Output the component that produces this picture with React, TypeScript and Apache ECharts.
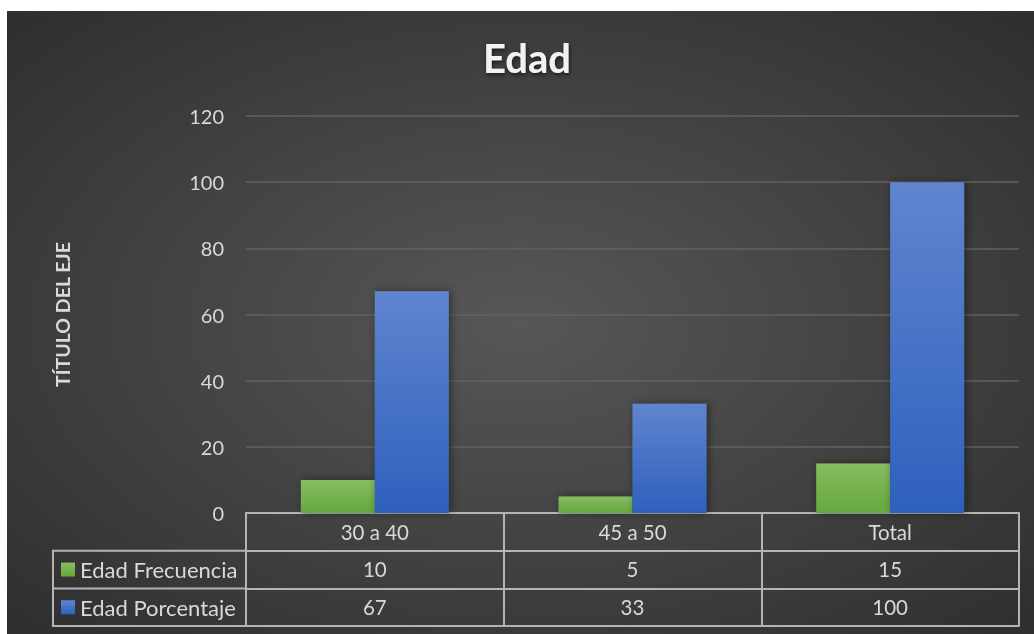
import React, { useEffect, useRef } from "react";
import * as echarts from "echarts";

const categories = ["30 a 40", "45 a 50", "Total"];
const frecuencia = [10, 5, 15];
const porcentaje = [67, 33, 100];
const seriesNames = ["Edad Frecuencia", "Edad Porcentaje"];
const yTicks = { min: 0, max: 120, interval: 20 };

const FONT = "Lato, 'Open Sans', sans-serif";
const TXT = "#d9d9d9";
const LINE = "#b4b4b4";

export default function App() {
  const ref = useRef<HTMLDivElement>(null);
  useEffect(() => {
    if (!ref.current) return;
    const chart = echarts.init(ref.current, null, { renderer: "svg" });
    const H = 623;
    const gridLeft = 239;
    const gridRight = 15;
    const gridTop = 105;
    const gridBottom = 121;
    const axisY = H - gridBottom; // 502
    const rowH = 37.7;
    const tableLeft = 46;
    const rowLabelCommon = {
      color: TXT,
      fontSize: 20.5,
      fontFamily: FONT,
      margin: 0,
      lineHeight: 37,
      verticalAlign: "top" as const,
    };
    const legendText = { color: TXT, fontSize: 22, fontFamily: FONT, lineHeight: 22 };
    const option: any = {
      animation: false,
      backgroundColor: {
        type: "radial",
        x: 0.5,
        y: 0.5,
        r: 0.85,
        colorStops: [
          { offset: 0, color: "#575757" },
          { offset: 1, color: "#262626" },
        ],
      },
      textStyle: { fontFamily: FONT },
      title: {
        text: "Edad",
        left: 515,
        textAlign: "center",
        top: 22,
        textStyle: {
          color: "#f2f2f2",
          fontSize: 40,
          fontWeight: "bold",
          fontFamily: FONT,
          textShadowColor: "rgba(0,0,0,0.6)",
          textShadowBlur: 4,
          textShadowOffsetX: 1,
          textShadowOffsetY: 2,
        },
      },
      legend: [
        {
          data: [seriesNames[0]],
          left: 54,
          top: axisY + rowH * 1.5 - 11,
          padding: 0,
          itemWidth: 14,
          itemHeight: 14,
          icon: "rect",
          textStyle: legendText,
        },
        {
          data: [seriesNames[1]],
          left: 54,
          top: axisY + rowH * 2.5 - 11,
          padding: 0,
          itemWidth: 14,
          itemHeight: 14,
          icon: "rect",
          textStyle: legendText,
        },
      ],
      grid: { left: gridLeft, right: gridRight, top: gridTop, bottom: gridBottom },
      xAxis: [
        {
          type: "category",
          data: categories,
          position: "bottom",
          axisLine: { show: true, lineStyle: { color: LINE, width: 2 } },
          axisTick: { show: true, length: rowH * 3, lineStyle: { color: LINE, width: 2 } },
          axisLabel: { ...rowLabelCommon },
          splitLine: { show: false },
        },
        {
          type: "category",
          data: frecuencia.map(String),
          position: "bottom",
          offset: rowH,
          axisLine: { show: true, lineStyle: { color: LINE, width: 2 } },
          axisTick: { show: false },
          axisLabel: { ...rowLabelCommon },
        },
        {
          type: "category",
          data: porcentaje.map(String),
          position: "bottom",
          offset: rowH * 2,
          axisLine: { show: true, lineStyle: { color: LINE, width: 2 } },
          axisTick: { show: false },
          axisLabel: { ...rowLabelCommon },
        },
        {
          type: "category",
          data: categories,
          position: "bottom",
          offset: rowH * 3,
          axisLine: { show: true, lineStyle: { color: LINE, width: 2 } },
          axisTick: { show: false },
          axisLabel: { show: false },
        },
      ],
      yAxis: {
        type: "value",
        min: yTicks.min,
        max: yTicks.max,
        interval: yTicks.interval,
        name: "TÍTULO DEL EJE",
        nameLocation: "middle",
        nameGap: 174,
        nameRotate: 90,
        nameTextStyle: { color: TXT, fontSize: 19.5, fontWeight: "bold", fontFamily: FONT },
        axisLine: { show: false },
        axisTick: { show: false },
        axisLabel: { color: TXT, fontSize: 20, fontFamily: FONT, margin: 22 },
        splitLine: { lineStyle: { color: "#626262", width: 1.5 } },
      },
      graphic: [
        {
          type: "polyline",
          silent: true,
          shape: {
            points: [
              [gridLeft, axisY + rowH],
              [tableLeft, axisY + rowH],
              [tableLeft, axisY + rowH * 3],
              [gridLeft, axisY + rowH * 3],
            ],
          },
          style: { stroke: LINE, lineWidth: 2, fill: null },
        },
        {
          type: "line",
          silent: true,
          shape: { x1: tableLeft, y1: axisY + rowH * 2, x2: gridLeft, y2: axisY + rowH * 2 },
          style: { stroke: LINE, lineWidth: 2 },
        },
      ],
      series: [
        {
          name: seriesNames[0],
          type: "bar",
          data: frecuencia,
          barWidth: "28.7%",
          barGap: "0%",
          itemStyle: {
            color: new echarts.graphic.LinearGradient(0, 0, 0, 1, [
              { offset: 0, color: "#86bd61" },
              { offset: 1, color: "#66a83d" },
            ]),
            shadowColor: "rgba(0,0,0,0.45)",
            shadowBlur: 8,
            shadowOffsetX: 2,
          },
        },
        {
          name: seriesNames[1],
          type: "bar",
          data: porcentaje,
          barWidth: "28.7%",
          barGap: "0%",
          itemStyle: {
            color: new echarts.graphic.LinearGradient(0, 0, 0, 1, [
              { offset: 0, color: "#6085cf" },
              { offset: 1, color: "#2e60bd" },
            ]),
            shadowColor: "rgba(0,0,0,0.45)",
            shadowBlur: 8,
            shadowOffsetX: 2,
          },
        },
      ],
    };
    chart.setOption(option);
    return () => chart.dispose();
  }, []);
  return (
    <div
      ref={ref}
      style={{ position: "fixed", left: 7, top: 11, width: 1027, height: 623 }}
    />
  );
}
